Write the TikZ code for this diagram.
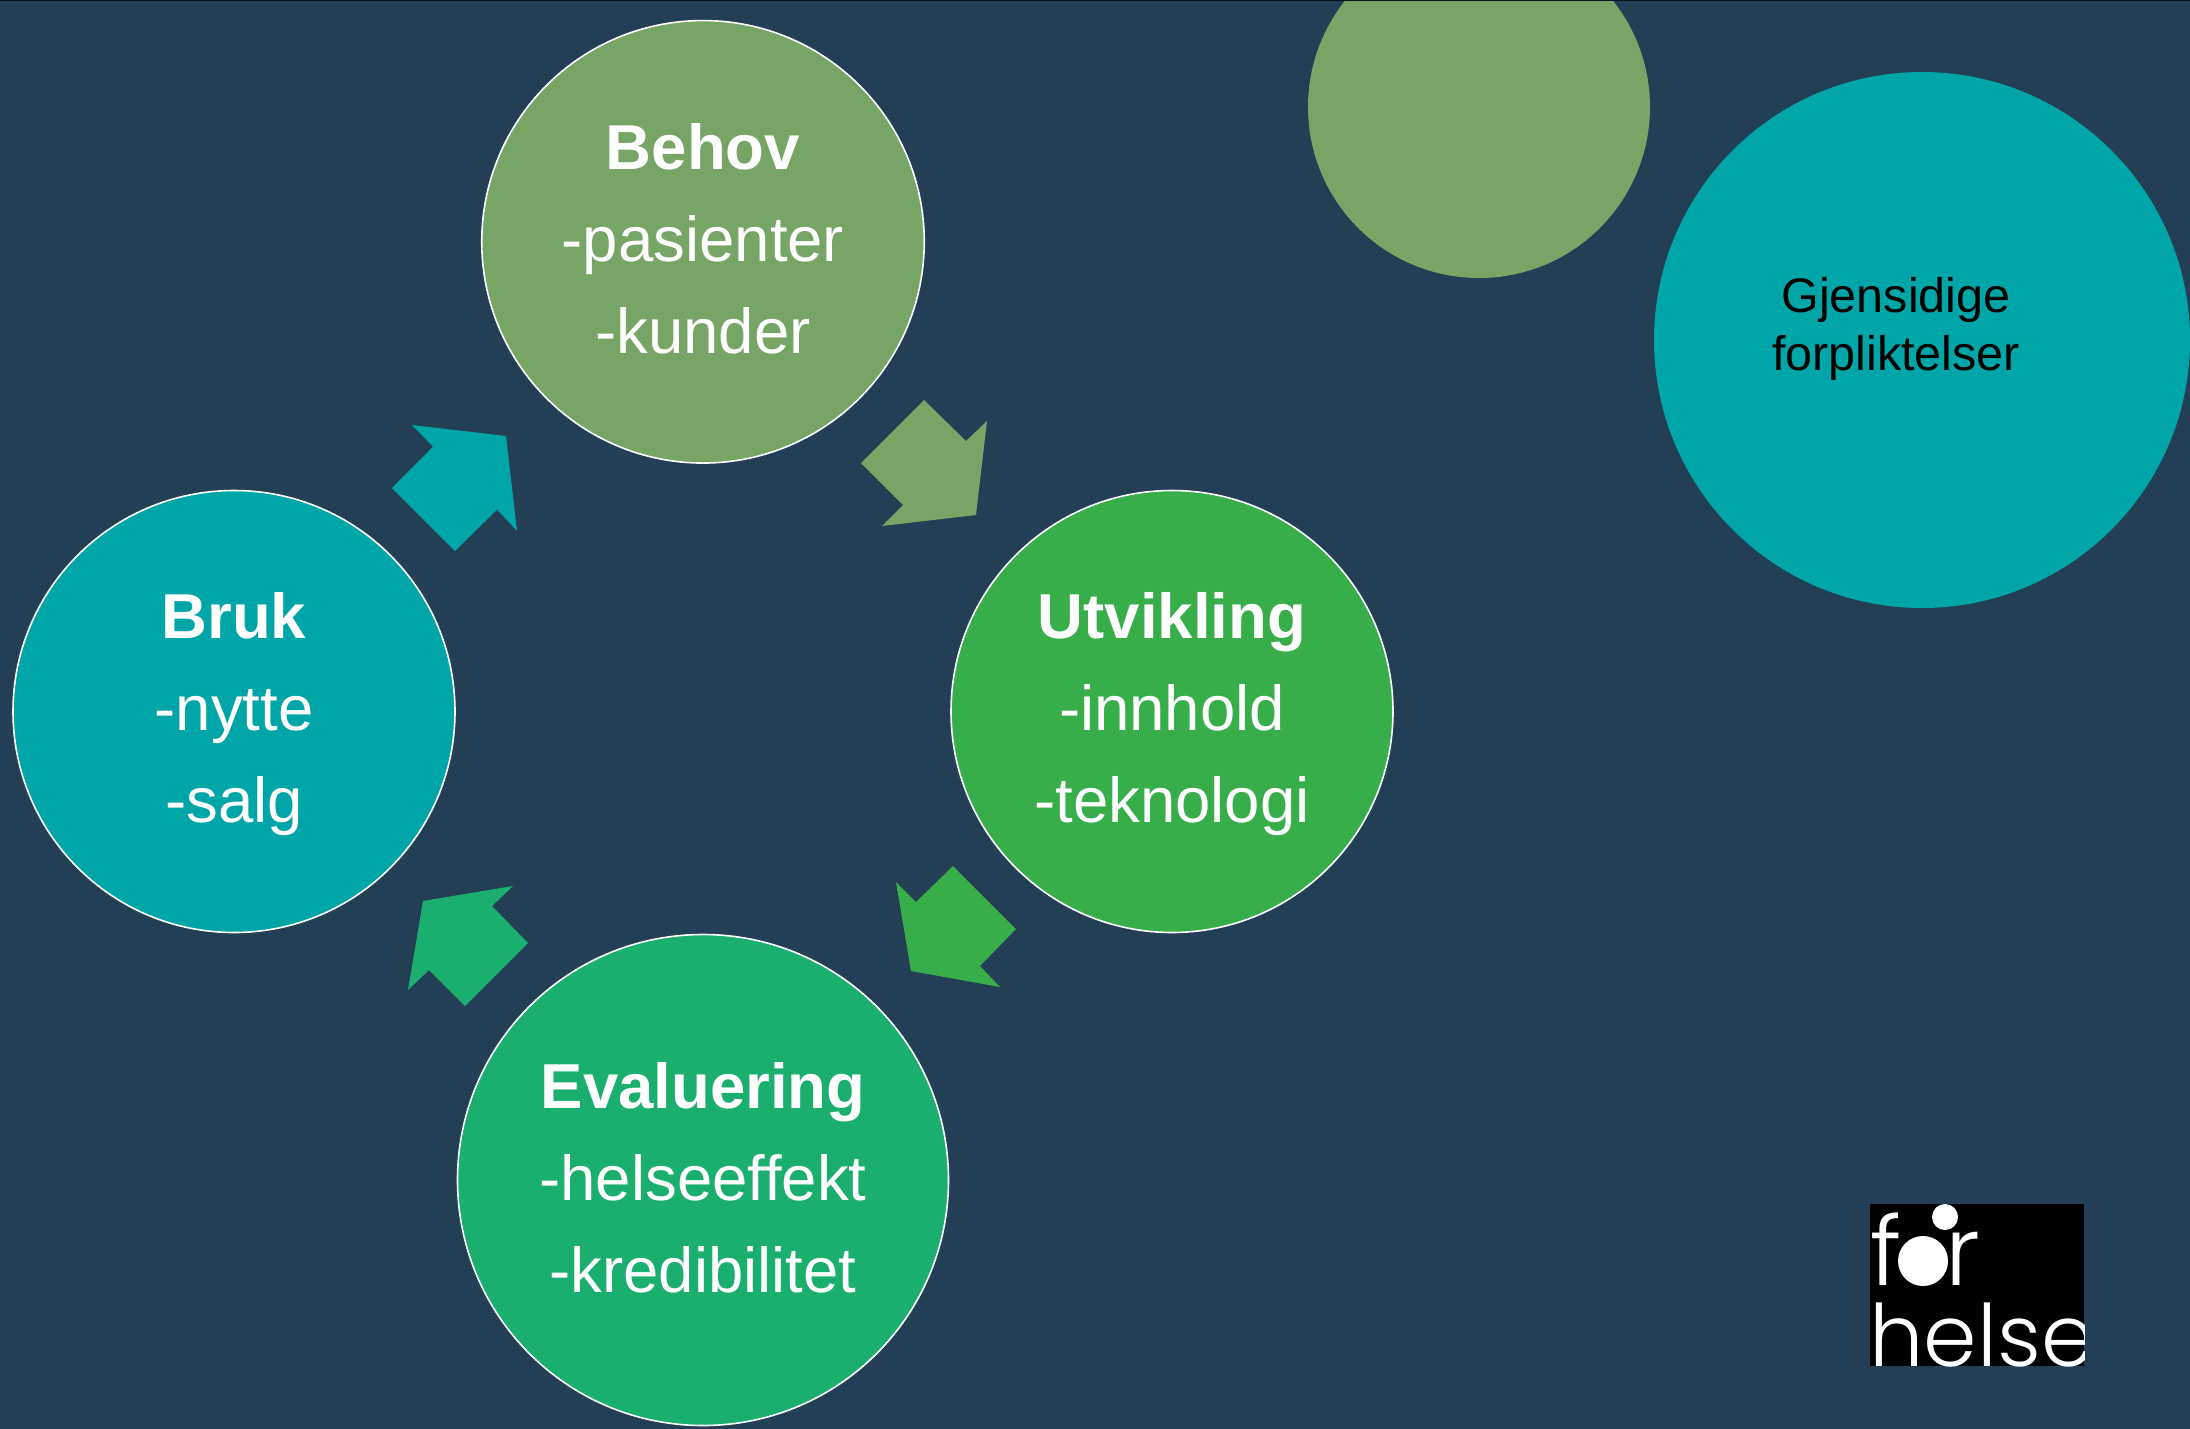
\documentclass[tikz,border=0pt]{standalone}
\usepackage{fontspec}
\setmainfont{Liberation Sans}[Ligatures=NoCommon]
\newfontfamily\logofont{Poppins Light}
\definecolor{bgblue}{HTML}{233F55}
\definecolor{leaf}{HTML}{76A566}
\definecolor{tealc}{HTML}{00A5A8}
\definecolor{grass}{HTML}{38AE4B}
\definecolor{jade}{HTML}{1AAE6F}
\tikzset{
  phase/.style={circle,draw=white,line width=1.6pt,inner sep=0pt,outer sep=0pt,text=white,align=center,
    text height=229pt,text depth=6.2pt,font=\fontsize{63.5}{92}\selectfont},
  blob/.style={circle,inner sep=0pt,outer sep=0pt},
  logotext/.style={inner sep=0pt,outer sep=0pt,anchor=base,text=white,font=\logofont\fontsize{96}{96}\selectfont},
}
\begin{document}
\begin{tikzpicture}[x=1pt,y=-1pt]
\useasboundingbox (0,0) rectangle (2190,1428);
\fill[bgblue] (-1,-1) rectangle (2191,1429);
\node[phase,fill=leaf,minimum size=442.5pt] (behov) at (703,241.8) {\textbf{Behov}\\-pasienter\\-kunder};
\node[phase,fill=grass,minimum size=442pt] (utv) at (1172,711.5) {\textbf{Utvikling}\\-innhold\\-teknologi};
\node[phase,fill=tealc,minimum size=442pt] (bruk) at (234,711.5) {\textbf{Bruk}\\-nytte\\-salg};
\node[phase,fill=jade,minimum size=491pt,text height=232pt] (eval) at (703,1180) {\textbf{Evaluering}\\-helseeffekt\\-kredibilitet};
\node[blob,fill=leaf,minimum size=342pt] (gblob) at (1479,107) {};
\node[blob,fill=tealc,minimum size=536pt] (tblob) at (1922,340) {};
\node[anchor=base,inner sep=0pt,align=center,font=\fontsize{48.5}{58}\selectfont] (mutual) at (1896,370) {Gjensidige\\forpliktelser};
\fill[tealc] (506,436)--(412,425)--(433,446.7)--(392,488)--(455,551)--(497,509.7)--(517,530.7)--cycle;
\fill[leaf] (924,400)--(966,441)--(987,421)--(976,515)--(882,526)--(903,505)--(861,463)--cycle;
\fill[grass] (953,866)--(1016,929)--(980,966)--(1000,987)--(911,971)--(896,882)--(916,902)--cycle;
\fill[jade] (513,886)--(423,901)--(408,990)--(429,970)--(465,1006)--(528,943)--(492,906)--cycle;
\fill[black!70!bgblue] (0,0) rectangle (2190,1.2);
\node[fill=black,inner sep=0pt,outer sep=0pt,minimum width=214pt,minimum height=162pt] (logo) at (1977,1285) {};
\begin{scope}
\clip (logo.south west) rectangle (logo.north east);
\node[logotext] (lf) at (1886,1285) {f};
\node[logotext] (lr) at (1963,1285) {r};
\node[logotext,font=\logofont\fontsize{86}{86}\selectfont] (lh) at (1982,1366) {helse};
\fill[white] (1923,1261) circle (25);
\fill[white] (1945,1217) circle (13);
\end{scope}
\end{tikzpicture}
\end{document}
